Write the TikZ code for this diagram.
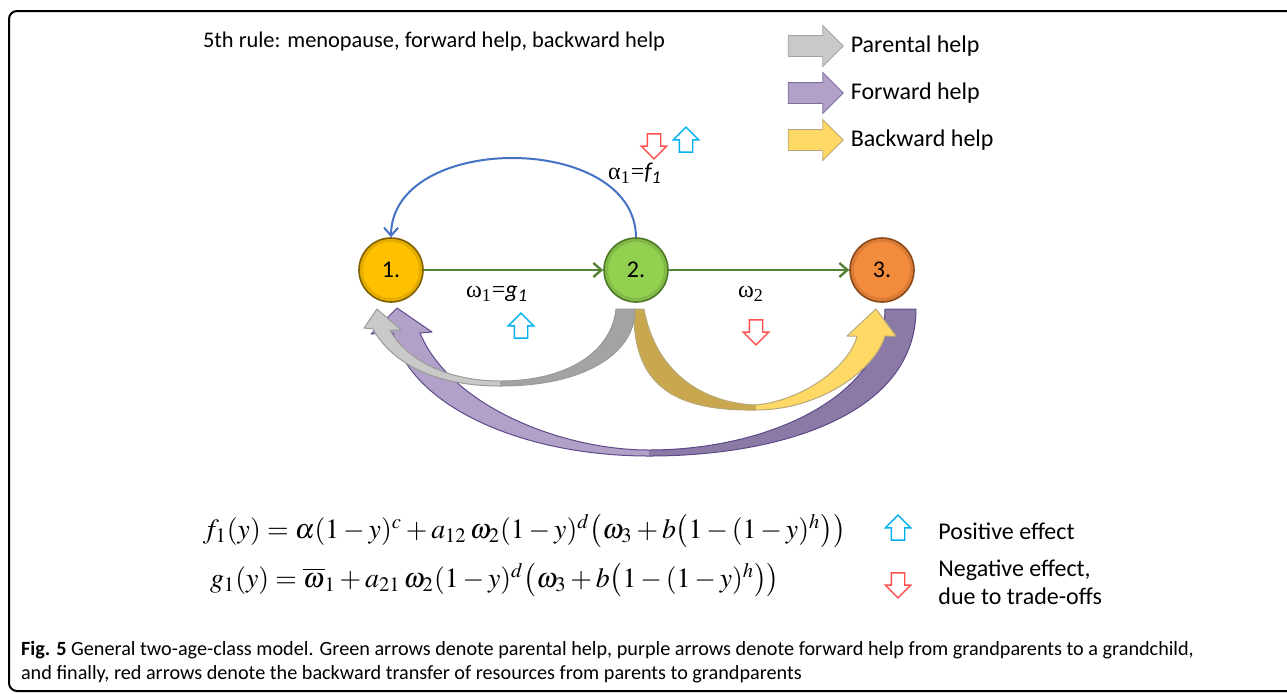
\documentclass[tikz,border=0pt]{standalone}
\usepackage{mathptmx}
\usepackage[no-math]{fontspec}
\setmainfont{Carlito}
\newfontfamily\grk{Liberation Serif}
\usetikzlibrary{shapes.arrows, arrows.meta, positioning}

\definecolor{agegold}{HTML}{FFC000}
\definecolor{agegoldline}{HTML}{7F6000}
\definecolor{agegreen}{HTML}{92D050}
\definecolor{agegreenline}{HTML}{4E7A28}
\definecolor{ageorange}{HTML}{F38B3C}
\definecolor{ageorangeline}{HTML}{8A4A1A}
\definecolor{flowgreen}{HTML}{548235}
\definecolor{arcblue}{HTML}{4472C4}
\definecolor{posblue}{HTML}{00B0F0}
\definecolor{negred}{HTML}{FF5050}
\definecolor{parlight}{HTML}{C9C9C9}
\definecolor{pardark}{HTML}{A3A3A3}
\definecolor{parline}{HTML}{9A9A9A}
\definecolor{fwdlight}{HTML}{B1A0C7}
\definecolor{fwddark}{HTML}{8A7AA5}
\definecolor{fwdline}{HTML}{5D4A8A}
\definecolor{bwdlight}{HTML}{FFD966}
\definecolor{bwddark}{HTML}{C9A74E}
\definecolor{bwdline}{HTML}{B8A77A}

\begin{document}
\begin{tikzpicture}[x=0.5pt, y=-0.5pt,
    font=\fontsize{12}{14}\selectfont,
    age/.style={circle, draw, line width=0.8pt, minimum size=32pt, inner sep=0pt,
      path picture={\draw[line width=2pt, black, opacity=0.1]
        (path picture bounding box.center) circle (15pt);}},
    flow/.style={-{Straight Barb[length=4pt, width=7pt]}, line width=1.2pt, draw=flowgreen},
    legarrow/.style={single arrow, draw, line width=0.4pt, minimum height=27.5pt,
      inner xsep=0pt, inner ysep=5pt, single arrow head extend=5pt},
    effect/.style={single arrow, draw, fill=white, line width=0.7pt, minimum height=12.5pt,
      inner sep=3pt, single arrow head extend=3pt},
    posarrow/.style={effect, draw=posblue, shape border rotate=90},
    negarrow/.style={effect, draw=negred, shape border rotate=270},
    band/.style={line width=0.5pt, line join=round}
  ]
  \clip (0,0) rectangle (1287,693);

  % frame
  \draw[line width=1pt, rounded corners=4pt] (1300,11) -- (9,11) -- (9,691) -- (1300,691);

  \node[anchor=west, font=\fontsize{11.2}{13}\selectfont] (rule) at (196,42)
    {5th rule: menopause, forward help, backward help};

  % legend of help types
  \node[legarrow, fill=parlight, draw=pardark] (lpar) at (810.5,46) {};
  \node[legarrow, fill=fwdlight, draw=fwdline!80] (lfwd) at (810.5,93) {};
  \node[legarrow, fill=bwdlight, draw=bwdline] (lbwd) at (810.5,140) {};
  \node[right=0pt of lpar] (tpar) {Parental help};
  \node[right=0pt of lfwd] (tfwd) {Forward help};
  \node[right=0pt of lbwd] (tbwd) {Backward help};

  % age classes
  \node[age, fill=agegold, draw=agegoldline] (n1) at (391,270) {1.};
  \node[age, fill=agegreen, draw=agegreenline] (n2) at (636,270) {2.};
  \node[age, fill=ageorange, draw=ageorangeline] (n3) at (882,270) {3.};

  \draw[flow] (n1) -- (n2);
  \draw[flow] (n2) -- (n3);
  \draw[-{Straight Barb[length=4pt, width=7pt]}, line width=1pt, arcblue]
    (n2.north) .. controls (635,132) and (392,132) .. (n1.north);

  \node (alab) at (635,173) {{\grk α\textsubscript{1}=}\textit{f\textsubscript{1}}};
  \node (wlab) at (497,294) {{\grk ω\textsubscript{1}=}\textit{g\textsubscript{1}}};
  \node (wtwo) at (751,294) {\grk ω\textsubscript{2}};

  \node[negarrow] (topneg) at (654,143) {};
  \node[posarrow] (toppos) at (686,143) {};
  \node[posarrow] (midpos) at (521,329) {};
  \node[negarrow] (midneg) at (756,329) {};

  % forward help
  \draw[band, fill=fwdlight, draw=fwdline, path picture={\fill[fwddark] (649,300) rectangle (930,470);}]
    (397,308) -- (432,332) -- (420,333) .. controls (450,405) and (560,450) .. (649,450)
    .. controls (770,450) and (885,395) .. (885,309) -- (916,309)
    .. controls (916,415) and (780,456) .. (649,456)
    .. controls (520,456) and (410,405) .. (393,333) -- (371,334) -- cycle;
  % backward help
  \draw[band, fill=bwdlight, draw=bwdline, path picture={\fill[bwddark] (600,300) rectangle (756,420);}]
    (876,309) -- (896,336) -- (885,336) .. controls (875,370) and (820,410) .. (756,410)
    .. controls (680,411) and (632,390) .. (634,309) -- (644,309)
    .. controls (655,370) and (700,403) .. (756,405)
    .. controls (805,400) and (850,365) .. (857,336) -- (847,336) -- cycle;
  % parental help
  \draw[band, fill=parlight, draw=parline, path picture={\fill[pardark] (500,300) rectangle (640,400);}]
    (377,309) -- (401,330) -- (390,330) .. controls (405,358) and (445,381) .. (500,381)
    .. controls (570,381) and (612,350) .. (616,309) -- (635,309)
    .. controls (636,350) and (590,386) .. (500,386)
    .. controls (430,386) and (390,360) .. (373,329) -- (364,328) -- cycle;

  % equations
  \node[anchor=west, font=\fontsize{13.9}{17}\selectfont] (eqf) at (196,531)
    {$f_1(y)=\alpha(1-y)^c+a_{12}\,\omega_2(1-y)^d\bigl(\omega_3+b\bigl(1-(1-y)^h\bigr)\bigr)$};
  \node[anchor=west, font=\fontsize{13.9}{17}\selectfont] (eqg) at (203,580)
    {$g_1(y)=\overline{\omega}_1+a_{21}\,\omega_2(1-y)^d\bigl(\omega_3+b\bigl(1-(1-y)^h\bigr)\bigr)$};

  % legend of effects
  \node[posarrow] (lpos) at (898,531) {};
  \node[negarrow] (lneg) at (898,582) {};
  \node[right=13pt of lpos] (tpos) {Positive effect};
  \node[right=13pt of lneg, align=left] (tneg) {Negative effect,\\due to trade-offs};

  % caption
  \node[anchor=west, align=left, font=\fontsize{10.1}{12}\selectfont] (cap) at (14,662)
    {\textbf{Fig. 5} General two-age-class model. Green arrows denote parental help, purple arrows denote forward help from grandparents to a grandchild,\\
     and finally, red arrows denote the backward transfer of resources from parents to grandparents};
\end{tikzpicture}
\end{document}
